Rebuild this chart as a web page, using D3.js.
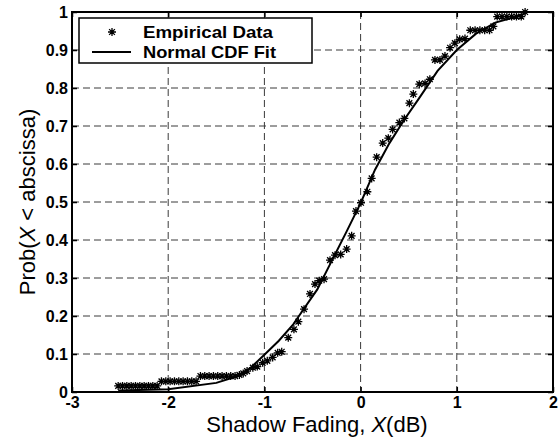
<!DOCTYPE html>
<html>
<head>
<meta charset="utf-8">
<script src="https://cdn.jsdelivr.net/npm/d3@7"></script>
<style>
  body { margin: 0; background: #fff; }
  svg { display: block; font-family: "Liberation Sans", Arial, sans-serif; }
</style>
</head>
<body>
<svg id="chart" width="560" height="444"></svg>
<script>
// empirical CDF samples (x in dB, y = probability)
const empX = [
  -2.52, -2.475, -2.43, -2.385, -2.34, -2.295, -2.25, -2.205, -2.16, -2.115,
  -2.07, -2.025, -1.98, -1.935, -1.89, -1.845, -1.80, -1.755, -1.71,
  -1.665, -1.62, -1.575, -1.53, -1.485, -1.44, -1.395, -1.35, -1.305,
  -1.26, -1.22, -1.18, -1.12, -1.074, -1.018, -0.97, -0.914, -0.862, -0.82,
  -0.752, -0.693, -0.647, -0.588, -0.526, -0.474, -0.43, -0.38, -0.318, -0.266,
  -0.207, -0.145, -0.093, -0.048, 0.004, 0.07, 0.115, 0.167, 0.23, 0.288,
  0.333, 0.403, 0.455, 0.507, 0.548, 0.61, 0.67, 0.72, 0.773, 0.825,
  0.877, 0.93, 0.98, 1.03, 1.085, 1.14, 1.19, 1.24, 1.29, 1.34, 1.38,
  1.42, 1.47, 1.52, 1.57, 1.62, 1.67, 1.71
];
const empY = [
  0.016, 0.016, 0.016, 0.016, 0.016, 0.016, 0.016, 0.016, 0.016, 0.016,
  0.028, 0.028, 0.028, 0.028, 0.028, 0.028, 0.028, 0.028, 0.028,
  0.042, 0.042, 0.042, 0.042, 0.042, 0.042, 0.042, 0.042, 0.042,
  0.045, 0.049, 0.055, 0.064, 0.067, 0.077, 0.082, 0.091, 0.103, 0.106,
  0.143, 0.165, 0.185, 0.218, 0.258, 0.284, 0.293, 0.297, 0.347, 0.36,
  0.362, 0.376, 0.411, 0.476, 0.498, 0.527, 0.562, 0.618, 0.655, 0.668,
  0.691, 0.709, 0.72, 0.76, 0.784, 0.81, 0.812, 0.823, 0.874, 0.874,
  0.884, 0.906, 0.918, 0.928, 0.93, 0.952, 0.952, 0.952, 0.952, 0.952, 0.962,
  0.988, 0.988, 0.988, 0.988, 0.988, 0.988, 1.0
];

// normal CDF fit, as drawn
const fitX = [-2.52, -2.0, -1.5, -1.3, -1.15, -1.0, -0.85, -0.7, -0.6, -0.45, -0.3, -0.15,
  0.0, 0.15, 0.3, 0.45, 0.6, 0.8, 1.0, 1.2, 1.4, 1.55, 1.72];
const fitY = [0.004, 0.007, 0.024, 0.040, 0.062, 0.098, 0.135, 0.178, 0.215, 0.27, 0.345, 0.42,
  0.497, 0.585, 0.655, 0.715, 0.77, 0.845, 0.9, 0.943, 0.972, 0.983, 0.997];

const xTicks = [-3, -2, -1, 0, 1, 2];
const yTicks = [0, 0.1, 0.2, 0.3, 0.4, 0.5, 0.6, 0.7, 0.8, 0.9, 1];
const legendLabels = ['Empirical Data', 'Normal CDF Fit'];

const svg = d3.select('#chart');
const box = {left: 72, right: 553, top: 12, bottom: 392};

const x = d3.scaleLinear().domain([-3, 2]).range([box.left, box.right]);
const y = d3.scaleLinear().domain([0, 1]).range([box.bottom, box.top]);

// MATLAB style '*' marker: plus and cross
const star = r => {
  const a = r * 0.72;
  return `M${-r},0L${r},0M0,${-r}L0,${r}M${-a},${-a}L${a},${a}M${-a},${a}L${a},${-a}`;
};
const fmt = d => String(+d.toFixed(1));  // plain hyphen, no trailing zeros

// grid
const grid = svg.append('g').attr('class', 'grid')
  .attr('stroke', '#3a3a3a').attr('stroke-width', 1).attr('stroke-dasharray', '7,4');
grid.selectAll('.gx').data(xTicks.slice(1, -1)).join('line')
  .attr('x1', d => x(d)).attr('x2', d => x(d))
  .attr('y1', box.top).attr('y2', box.bottom);
grid.selectAll('.gy').data(yTicks.slice(1, -1)).join('line')
  .attr('x1', box.left).attr('x2', box.right)
  .attr('y1', d => y(d)).attr('y2', d => y(d));

// axes with inward ticks, mirrored on top/right
const axB = d3.axisBottom(x).tickValues(xTicks).tickSizeInner(-5).tickSizeOuter(0).tickFormat(fmt);
const axT = d3.axisTop(x).tickValues(xTicks).tickSizeInner(-5).tickSizeOuter(0).tickFormat('');
const axL = d3.axisLeft(y).tickValues(yTicks).tickSizeInner(-5).tickSizeOuter(0).tickFormat(fmt);
const axR = d3.axisRight(y).tickValues(yTicks).tickSizeInner(-5).tickSizeOuter(0).tickFormat('');

const drawAxis = (ax, tr) => {
  const g = svg.append('g').attr('transform', tr).call(ax);
  g.select('.domain').remove();
  g.selectAll('.tick line').attr('stroke', '#000').attr('stroke-width', 1.5);
  g.selectAll('.tick text').attr('fill', '#000')
    .style('font-size', '16px').style('font-weight', 'bold');
  g.attr('font-family', null).attr('font-size', null);
  return g;
};
const gB = drawAxis(axB, `translate(0,${box.bottom})`);
gB.selectAll('.tick text').attr('dy', '0.71em').attr('y', 5);
drawAxis(axT, `translate(0,${box.top})`);
const gL = drawAxis(axL, `translate(${box.left},0)`);
gL.selectAll('.tick text').attr('x', -4);
drawAxis(axR, `translate(${box.right},0)`);

// fit curve
svg.append('path')
  .datum(fitX.map((d, i) => [d, fitY[i]]))
  .attr('fill', 'none').attr('stroke', '#000').attr('stroke-width', 2)
  .attr('d', d3.line().x(d => x(d[0])).y(d => y(d[1])));

// empirical markers
svg.append('g').selectAll('path')
  .data(empX.map((d, i) => [d, empY[i]]))
  .join('path')
  .attr('transform', d => `translate(${x(d[0])},${y(d[1])})`)
  .attr('d', star(4)).attr('stroke', '#000').attr('stroke-width', 1.3).attr('fill', 'none');

// frame
svg.append('rect')
  .attr('x', box.left).attr('y', box.top)
  .attr('width', box.right - box.left).attr('height', box.bottom - box.top)
  .attr('fill', 'none').attr('stroke', '#000').attr('stroke-width', 2);

// legend
const lg = svg.append('g');
lg.append('rect').attr('x', 79).attr('y', 18).attr('width', 233).attr('height', 45)
  .attr('fill', '#fff').attr('stroke', '#000').attr('stroke-width', 1.5);
lg.append('path').attr('transform', 'translate(112,32)').attr('d', star(4))
  .attr('stroke', '#000').attr('stroke-width', 1.3).attr('fill', 'none');
lg.append('line').attr('x1', 92).attr('x2', 131).attr('y1', 52).attr('y2', 52)
  .attr('stroke', '#000').attr('stroke-width', 2);
lg.selectAll('text').data(legendLabels).join('text')
  .attr('x', 143).attr('y', (d, i) => 38 + i * 20)
  .attr('textLength', (d, i) => i ? 133 : 130).attr('lengthAdjust', 'spacingAndGlyphs')
  .style('font-size', '17px').style('font-weight', 'bold').text(d => d);

// axis titles
const xt = svg.append('text').attr('x', 317).attr('y', 432).attr('text-anchor', 'middle')
  .style('font-size', '22px');
xt.append('tspan').text('Shadow Fading, ');
xt.append('tspan').style('font-style', 'italic').text('X');
xt.append('tspan').text('(dB)');

const yt = svg.append('text').attr('transform', 'translate(35,202) rotate(-90)')
  .attr('text-anchor', 'middle').style('font-size', '22px');
yt.append('tspan').text('Prob(');
yt.append('tspan').style('font-style', 'italic').text('X');
yt.append('tspan').text(' < abscissa)');
</script>
</body>
</html>
